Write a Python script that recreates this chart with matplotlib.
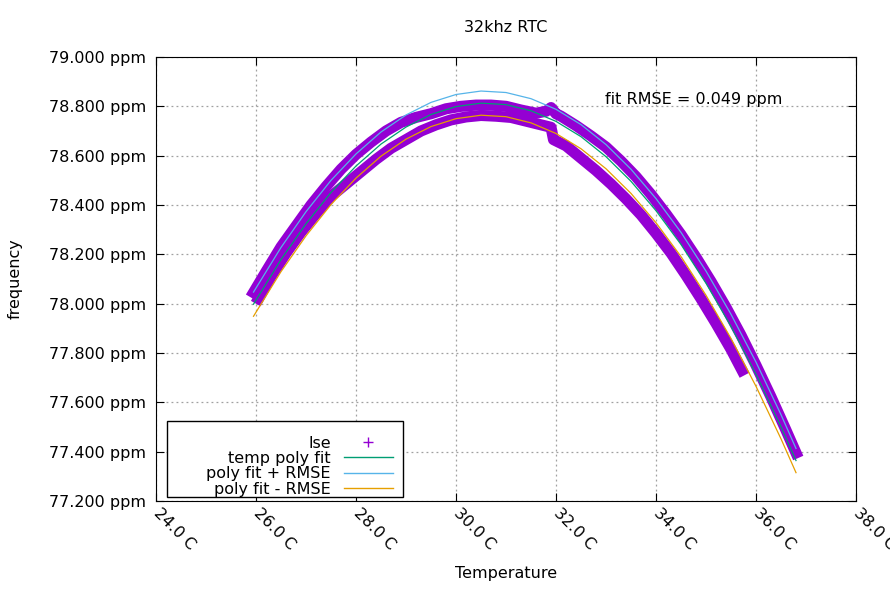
import numpy as np
import matplotlib
matplotlib.use('Agg')
from matplotlib import pyplot as plt
from matplotlib.lines import Line2D
from matplotlib.patches import Rectangle

# temperature (C) / measured offset (ppm), two branches of the lse data
temp_a = [25.95, 26.2, 26.5, 26.8, 27.1, 27.4, 27.7, 28.0, 28.3, 28.6, 28.9, 29.2,
          29.5, 29.8, 30.1, 30.4, 30.7, 31.0, 31.3, 31.6, 31.8, 31.9, 32.0, 32.1,
          32.4, 32.7, 33.0, 33.3, 33.6, 33.9, 34.2, 34.5, 34.8, 35.1, 35.4, 35.7,
          36.0, 36.3, 36.6, 36.8]
lse_a = [78.045, 78.13, 78.23, 78.315, 78.40, 78.475, 78.545, 78.605, 78.655, 78.70,
         78.735, 78.755, 78.77, 78.79, 78.80, 78.805, 78.805, 78.80, 78.785, 78.772,
         78.78, 78.795, 78.77, 78.76, 78.722, 78.68, 78.635, 78.578, 78.515, 78.443,
         78.364, 78.28, 78.188, 78.09, 77.985, 77.872, 77.75, 77.622, 77.487, 77.395]

temp_b = [26.05, 26.3, 26.6, 26.9, 27.2, 27.5, 27.8, 28.1, 28.4, 28.7, 29.0, 29.3,
          29.6, 29.9, 30.2, 30.5, 30.8, 31.1, 31.4, 31.7, 31.9, 31.95, 32.2, 32.5,
          32.8, 33.1, 33.4, 33.7, 34.0, 34.3, 34.6, 34.9, 35.2, 35.5, 35.72]
lse_b = [78.02, 78.11, 78.205, 78.29, 78.365, 78.435, 78.485, 78.535, 78.585, 78.63,
         78.665, 78.70, 78.725, 78.745, 78.757, 78.763, 78.76, 78.755, 78.74, 78.725,
         78.715, 78.665, 78.64, 78.59, 78.54, 78.485, 78.425, 78.36, 78.285, 78.205,
         78.115, 78.02, 77.92, 77.815, 77.73]

# polynomial fit
fit_t = [25.95, 26.5, 27.0, 27.5, 28.0, 28.5, 29.0, 29.5, 30.0, 30.5, 31.0, 31.5,
         32.0, 32.5, 33.0, 33.5, 34.0, 34.5, 35.0, 35.5, 36.0, 36.5, 36.8]
fit_v = [77.998, 78.179, 78.324, 78.451, 78.558, 78.647, 78.716, 78.767, 78.799,
         78.813, 78.807, 78.782, 78.739, 78.677, 78.596, 78.496, 78.377, 78.240,
         78.083, 77.908, 77.714, 77.501, 77.364]
rmse = 0.049

xticks = [24, 26, 28, 30, 32, 34, 36, 38]
yticks = [77.2, 77.4, 77.6, 77.8, 78.0, 78.2, 78.4, 78.6, 78.8, 79.0]

purple, green, blue, orange = '#9400d3', '#009e73', '#56b4e9', '#e69f00'
fs = 11.5

fig = plt.figure(figsize=(8.9, 5.9), dpi=100)
ax = fig.add_axes([0.1753, 0.1508, 0.7865, 0.7526])

# dense lse points render as thick bands
for t, v in [(temp_a, lse_a), (temp_b, lse_b)]:
    ax.plot(t, v, color=purple, lw=8, solid_joinstyle='round', zorder=2)
    ax.plot(t, v, ls='none', marker='+', ms=6, mew=1.5, color=purple, zorder=2)

fit = np.array(fit_v)
ax.plot(fit_t, fit, color=green, lw=0.9, zorder=3)
ax.plot(fit_t, fit + rmse, color=blue, lw=0.9, zorder=3)
ax.plot(fit_t, fit - rmse, color=orange, lw=0.9, zorder=3)

ax.set_xlim(24, 38)
ax.set_ylim(77.2, 79.0)
ax.set_xticks(xticks)
ax.set_xticklabels([f'{x:.1f} C' for x in xticks], rotation=-45, ha='left',
                   va='center', rotation_mode='anchor')
ax.set_yticks(yticks)
ax.set_yticklabels([f'{y:.3f} ppm' for y in yticks])
ax.tick_params(direction='in', top=True, right=True, length=6, width=0.8,
               labelsize=fs, pad=7)
ax.grid(True, color='#a0a0a0', lw=0.9, ls=(0, (1.5, 2.5)))
ax.set_axisbelow(True)

ax.set_title('32khz RTC', fontsize=fs, pad=18)
ax.set_xlabel('Temperature', fontsize=fs)
ax.xaxis.set_label_coords(0.5, -0.146)
ax.set_ylabel('frequency', fontsize=fs)
ax.yaxis.set_label_coords(-0.19, 0.5)

ax.text(32.98, 78.826, 'fit RMSE = 0.049 ppm', ha='left', va='center', fontsize=fs)

ax.add_patch(Rectangle((0.0157, 0.009), 0.3372, 0.1712, transform=ax.transAxes,
                       fc='white', ec='black', lw=1, zorder=4))
handles = [Line2D([], [], ls='none', marker='+', ms=7, mew=1, color=purple),
           Line2D([], [], color=green, lw=1),
           Line2D([], [], color=blue, lw=1),
           Line2D([], [], color=orange, lw=1)]
labels = ['lse', 'temp poly fit', 'poly fit + RMSE', 'poly fit - RMSE']
leg = ax.legend(handles, labels, loc='lower right', bbox_to_anchor=(0.3386, 0.0101),
                frameon=False, markerfirst=False, fontsize=fs, labelspacing=0.02,
                borderpad=0, borderaxespad=0, handlelength=3.1, handletextpad=0.8)
leg.set_zorder(5)
for col in leg._legend_handle_box.get_children():
    col.align = 'right'

fig.savefig('out.png', dpi=100)
